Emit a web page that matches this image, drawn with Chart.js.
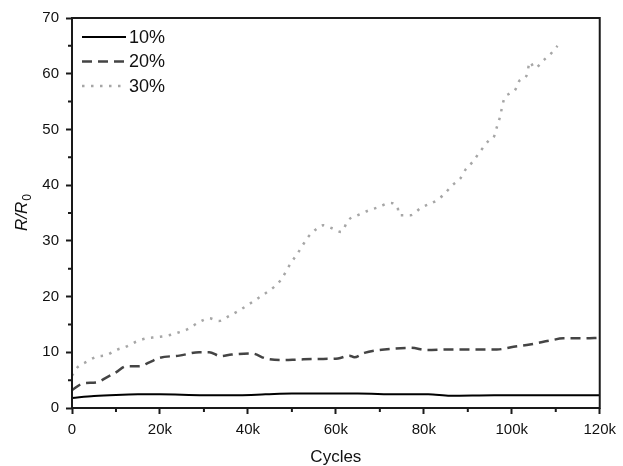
<!DOCTYPE html>
<html lang="en">
  <head>
    <meta charset="UTF-8" />
    <title>R/R0 vs cycles</title>
    <script src="https://cdn.jsdelivr.net/npm/chart.js"></script>
    <style>
      body { margin: 0; background: #fff; }
      canvas { display: block; }
    </style>
  </head>
  <body>
    <canvas id="cyclesChart" width="623" height="466"></canvas>

    <script>
      // data (cycles, R/R0)
      const cycles10 = [0, 5000, 10000, 15000, 20000, 30000, 38000, 44000, 50000, 65000, 74000, 81000, 86000, 96000, 120000];
      const ratio10 = [1.8, 2.15, 2.35, 2.45, 2.45, 2.3, 2.3, 2.45, 2.6, 2.6, 2.45, 2.45, 2.2, 2.3, 2.3];

      const cycles20 = [0, 2500, 5600, 7900, 10000, 12400, 15300, 17600, 19900, 24400, 28900, 31200, 33800, 36300, 40900, 44000, 47600, 51500, 56000, 60500, 63100, 64200, 66500, 71000, 77000, 80800, 85400, 91300, 96600, 100400, 104100, 108700, 111700, 116200, 120000];
      const ratio20 = [3.2, 4.4, 4.6, 5.5, 6.4, 7.5, 7.5, 8.2, 9.0, 9.4, 10.0, 10.0, 9.3, 9.6, 9.8, 8.9, 8.6, 8.7, 8.8, 8.9, 9.4, 9.1, 9.9, 10.5, 10.8, 10.4, 10.5, 10.5, 10.5, 11.0, 11.4, 12.1, 12.5, 12.5, 12.6];

      const cycles30 = [0, 1000, 3300, 5600, 7900, 10000, 12300, 14600, 16900, 19100, 21700, 24000, 26200, 28900, 31200, 33400, 35700, 38000, 40200, 42300, 44000, 45900, 47500, 49600, 51500, 53700, 55200, 57100, 59000, 61200, 62800, 65000, 67600, 69900, 72200, 74000, 74400, 77000, 79300, 83000, 84900, 86500, 88300, 89400, 91000, 92500, 94800, 95900, 96600, 97300, 98200, 99600, 100700, 101800, 103400, 104100, 105200, 107200, 109000, 110400];
      const ratio30 = [5.8, 7.1, 8.3, 9.2, 9.5, 10.4, 11.0, 11.9, 12.5, 12.7, 13.0, 13.5, 14.1, 15.4, 16.1, 15.6, 16.5, 17.5, 18.6, 19.7, 20.6, 21.7, 23.0, 25.8, 28.0, 30.7, 31.9, 32.8, 32.3, 31.6, 33.7, 34.6, 35.5, 36.1, 36.8, 36.1, 34.6, 34.6, 35.9, 37.3, 38.6, 40.0, 41.2, 42.7, 44.1, 45.7, 48.0, 48.6, 50.4, 52.2, 55.3, 56.5, 57.0, 58.8, 59.7, 62.1, 61.0, 62.4, 63.7, 65.0];

      const seriesLabels = ["10%", "20%", "30%"];

      function toPoints(xs, ys) {
        return xs.map((x, i) => ({ x: x, y: ys[i] }));
      }

      const FONT = "'Liberation Sans', Arial, sans-serif";
      const AXIS = "#1a1a1a";

      // frame round the plot, short minor ticks, y title with subscript, legend inside the plot
      const extras = {
        id: "extras",
        afterDraw(chart) {
          const ctx = chart.ctx;
          const area = chart.chartArea;
          const xs = chart.scales.x;
          const ys = chart.scales.y;
          ctx.save();
          ctx.strokeStyle = AXIS;
          ctx.lineWidth = 2;
          ctx.strokeRect(area.left, area.top, area.right - area.left, area.bottom - area.top);

          // minor ticks (majors come from the scales)
          ctx.beginPath();
          xs.ticks.forEach((t) => {
            if (t.value % 20000 !== 0) {
              const px = xs.getPixelForValue(t.value);
              ctx.moveTo(px, area.bottom);
              ctx.lineTo(px, area.bottom + 4);
            }
          });
          ys.ticks.forEach((t) => {
            if (t.value % 10 !== 0) {
              const py = ys.getPixelForValue(t.value);
              ctx.moveTo(area.left, py);
              ctx.lineTo(area.left - 4, py);
            }
          });
          ctx.stroke();

          // y title: R/R0
          ctx.translate(22, (area.top + area.bottom) / 2);
          ctx.rotate(-Math.PI / 2);
          ctx.fillStyle = "#111";
          ctx.textBaseline = "middle";
          ctx.font = "italic 17px " + FONT;
          const main = "R/R";
          const wMain = ctx.measureText(main).width;
          ctx.font = "12px " + FONT;
          const wSub = ctx.measureText("0").width;
          const x0 = -(wMain + wSub) / 2;
          ctx.font = "italic 17px " + FONT;
          ctx.textAlign = "left";
          ctx.fillText(main, x0, 0);
          ctx.font = "12px " + FONT;
          ctx.fillText("0", x0 + wMain + 1, 6);
          ctx.restore();

          // legend
          ctx.save();
          chart.data.datasets.forEach((ds, i) => {
            const y = 37 + i * 24.5;
            ctx.strokeStyle = ds.borderColor;
            ctx.lineWidth = ds.borderWidth;
            ctx.setLineDash(ds.borderDash || []);
            ctx.beginPath();
            ctx.moveTo(area.left + 10, y);
            ctx.lineTo(area.left + 54, y);
            ctx.stroke();
            ctx.setLineDash([]);
            ctx.fillStyle = "#111";
            ctx.font = "18px " + FONT;
            ctx.textBaseline = "middle";
            ctx.textAlign = "left";
            ctx.fillText(ds.label, area.left + 57, y + 1);
          });
          ctx.restore();
        },
      };

      const config = {
        type: "line",
        data: {
          datasets: [
            {
              label: seriesLabels[0],
              data: toPoints(cycles10, ratio10),
              borderColor: "#000000",
              borderWidth: 2,
              borderDash: [],
            },
            {
              label: seriesLabels[1],
              data: toPoints(cycles20, ratio20),
              borderColor: "#444444",
              borderWidth: 2.5,
              borderDash: [10, 6],
            },
            {
              label: seriesLabels[2],
              data: toPoints(cycles30, ratio30),
              borderColor: "#a6a6a6",
              borderWidth: 2.5,
              borderDash: [2.5, 6.5],
            },
          ],
        },
        options: {
          responsive: false,
          animation: false,
          devicePixelRatio: 1,
          layout: {
            padding: { top: 18, right: 19, left: 0, bottom: 0 },
          },
          elements: {
            point: { radius: 0 },
            line: { tension: 0.3, cubicInterpolationMode: "monotone", fill: false },
          },
          scales: {
            x: {
              type: "linear",
              min: 0,
              max: 120000,
              afterFit: (scale) => { scale.height = 58; },
              border: { display: false },
              grid: {
                drawOnChartArea: false,
                tickLength: 6,
                tickWidth: 2,
                tickColor: (c) => (c.tick && c.tick.value % 20000 === 0 ? AXIS : "rgba(0,0,0,0)"),
              },
              ticks: {
                stepSize: 10000,
                padding: 7,
                color: "#111",
                font: { family: FONT, size: 15 },
                maxRotation: 0,
                autoSkip: false,
                callback: (v) => (v % 20000 === 0 ? (v === 0 ? "0" : v / 1000 + "k") : ""),
              },
              title: {
                display: true,
                text: "Cycles",
                color: "#111",
                font: { family: FONT, size: 17 },
                padding: { top: 0, bottom: -2 },
              },
            },
            y: {
              min: 0,
              max: 70,
              afterFit: (scale) => { scale.width = 72; },
              border: { display: false },
              grid: {
                drawOnChartArea: false,
                tickLength: 6,
                tickWidth: 2,
                tickColor: (c) => (c.tick && c.tick.value % 10 === 0 ? AXIS : "rgba(0,0,0,0)"),
              },
              ticks: {
                stepSize: 5,
                padding: 7,
                color: "#111",
                font: { family: FONT, size: 15 },
                autoSkip: false,
                callback: (v) => (v % 10 === 0 ? v : ""),
              },
            },
          },
          plugins: {
            legend: { display: false },
            tooltip: { enabled: false },
          },
        },
        plugins: [extras],
      };

      const cyclesChart = new Chart(document.getElementById("cyclesChart"), config);
    </script>
  </body>
</html>
